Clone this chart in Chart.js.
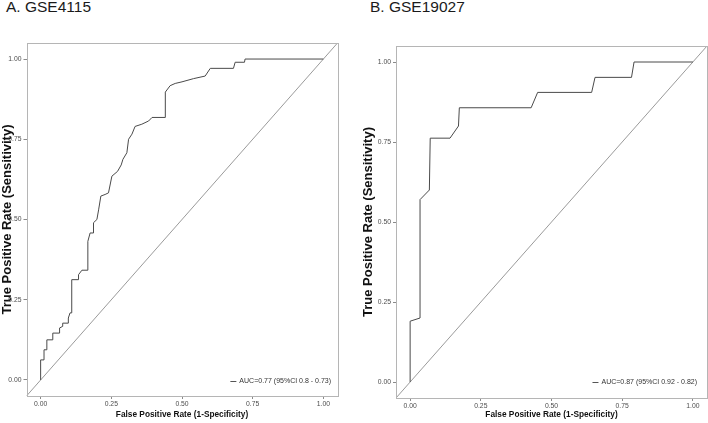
<!DOCTYPE html>
<html>
<head>
<meta charset="utf-8">
<script src="https://cdn.jsdelivr.net/npm/chart.js@4.4.1/dist/chart.umd.min.js"></script>
<style>
  html, body { margin:0; padding:0; background:#fff; }
  body { width:708px; height:423px; position:relative; overflow:hidden; }
  canvas { position:absolute; top:0; }
  .ptitle { position:absolute; top:-1px; font-family:"Liberation Sans", Arial, sans-serif; font-size:15.5px; line-height:1; color:#1a1a1a; white-space:nowrap; }
</style>
</head>
<body>
<div class="ptitle" style="left:6px;">A. GSE4115</div>
<div class="ptitle" style="left:370px;">B. GSE19027</div>
<canvas id="cA" width="354" height="423" style="left:0;"></canvas>
<canvas id="cB" width="354" height="423" style="left:354px;"></canvas>
<script>
// ---- data ----
const tickValues = [0, 0.25, 0.5, 0.75, 1];
const tickLabels = ['0.00', '0.25', '0.50', '0.75', '1.00'];
const diagonal = [-0.05, 1.05];

const panelTitles = ['A. GSE4115', 'B. GSE19027'];
const legendLabels = ['AUC=0.77 (95%CI 0.8 - 0.73)', 'AUC=0.87 (95%CI 0.92 - 0.82)'];
const xTitle = 'False Positive Rate (1-Specificity)';
const yTitle = 'True Positive Rate (Sensitivity)';

// GSE4115 ROC curve
const fprA = [0, 0, 0.012, 0.012, 0.022, 0.022, 0.043, 0.043, 0.067, 0.067, 0.078, 0.078, 0.098, 0.098, 0.104, 0.11, 0.11, 0.134, 0.134, 0.146, 0.167, 0.167, 0.175, 0.187, 0.187, 0.199, 0.205, 0.213, 0.228, 0.24, 0.252, 0.272, 0.285, 0.291, 0.305, 0.311, 0.323, 0.334, 0.358, 0.382, 0.394, 0.441, 0.441, 0.458, 0.476, 0.5, 0.541, 0.582, 0.6, 0.682, 0.688, 0.721, 0.723, 1];
const tprA = [0, 0.0625, 0.0625, 0.094, 0.094, 0.125, 0.125, 0.146, 0.146, 0.162, 0.167, 0.177, 0.177, 0.193, 0.209, 0.209, 0.3125, 0.3125, 0.328, 0.342, 0.342, 0.432, 0.458, 0.458, 0.49, 0.5, 0.53, 0.573, 0.578, 0.583, 0.635, 0.65, 0.67, 0.6875, 0.708, 0.75, 0.766, 0.79, 0.797, 0.807, 0.818, 0.818, 0.897, 0.917, 0.924, 0.929, 0.939, 0.947, 0.971, 0.971, 0.99, 0.99, 1, 1];

// GSE19027 ROC curve
const fprB = [0, 0, 0.035, 0.035, 0.068, 0.071, 0.141, 0.171, 0.174, 0.428, 0.451, 0.642, 0.654, 0.783, 0.792, 1];
const tprB = [0, 0.19, 0.2, 0.57, 0.6, 0.762, 0.762, 0.8, 0.857, 0.857, 0.905, 0.905, 0.952, 0.952, 1, 1];

// ---- plugins ----
const panelBox = {
  id: 'panelBox',
  afterDatasetsDraw(chart) {
    const {ctx, chartArea: a} = chart;
    ctx.save();
    ctx.strokeStyle = '#b5b5b5';
    ctx.lineWidth = 1;
    ctx.strokeRect(Math.round(a.left) + 0.5, Math.round(a.top) + 0.5, Math.round(a.right - a.left), Math.round(a.bottom - a.top));
    ctx.restore();
  }
};
const panelLegend = {
  id: 'panelLegend',
  afterDraw(chart, args, opts) {
    const {ctx, chartArea: a} = chart;
    const text = chart.data.datasets[0].label;
    ctx.save();
    ctx.font = '7px "Liberation Sans", Arial, sans-serif';
    ctx.fillStyle = '#333';
    ctx.textBaseline = 'middle';
    ctx.textAlign = 'right';
    const xr = a.right - opts.right;
    const y = a.bottom - opts.bottom;
    ctx.fillText(text, xr, y);
    const xs = xr - ctx.measureText(text).width;
    ctx.strokeStyle = '#555';
    ctx.lineWidth = 1;
    ctx.beginPath();
    ctx.moveTo(xs - 9, Math.round(y) + 0.5);
    ctx.lineTo(xs - 3, Math.round(y) + 0.5);
    ctx.stroke();
    ctx.restore();
  }
};

function makeChart(id, fpr, tpr, label, cfg) {
  const roc = fpr.map((x, i) => ({x: x, y: tpr[i]}));
  const diag = diagonal.map(v => ({x: v, y: v}));
  const tickFont = {family: '"Liberation Sans", Arial, sans-serif', size: 6.8};
  const common = {
    type: 'linear',
    min: -0.05, max: 1.05,
    afterBuildTicks: s => { s.ticks = tickValues.map(v => ({value: v})); },
    grid: {drawOnChartArea: false, drawTicks: true, tickLength: 3, color: '#8a8a8a', lineWidth: 1},
    border: {display: false},
  };
  return new Chart(document.getElementById(id), {
    type: 'scatter',
    data: {
      datasets: [
        {label: label, data: roc, showLine: true, borderColor: '#4a4a4a', borderWidth: 1, pointRadius: 0, tension: 0},
        {label: 'ref', data: diag, showLine: true, borderColor: '#808080', borderWidth: 0.8, pointRadius: 0}
      ]
    },
    options: {
      responsive: false,
      animation: false,
      layout: {padding: cfg.padding},
      plugins: {
        legend: {display: false},
        tooltip: {enabled: false},
        panelLegend: cfg.legend
      },
      scales: {
        x: Object.assign({}, common, {
          position: 'bottom',
          afterFit: s => { s.height = cfg.xH; },
          ticks: {autoSkip: false, maxRotation: 0, padding: cfg.xTickPad, color: '#4d4d4d', font: tickFont,
                  callback: (v, i) => tickLabels[i]},
          title: {display: true, text: xTitle, color: '#111', font: {family: '"Liberation Sans", Arial, sans-serif', size: 8.3, weight: 'bold'}, padding: {top: 0, bottom: 3}}
        }),
        y: Object.assign({}, common, {
          position: 'left',
          afterFit: s => { s.width = cfg.yW; },
          ticks: {autoSkip: false, padding: 2, color: '#4d4d4d', font: tickFont,
                  callback: (v, i) => tickLabels[i]},
          title: {display: true, text: yTitle, color: '#111', font: {family: '"Liberation Sans", Arial, sans-serif', size: 13, weight: 'bold'}, padding: {top: cfg.yTitlePad, bottom: 0}}
        })
      }
    },
    plugins: [panelBox, panelLegend]
  });
}

makeChart('cA', fprA, tprA, legendLabels[0], {
  padding: {left: 0, top: 43, right: 16.5, bottom: 0},
  xH: 27, yW: 26.5, yTitlePad: 0, xTickPad: 1,
  legend: {right: 6.5, bottom: 15}
});
makeChart('cB', fprB, tprB, legendLabels[1], {
  padding: {left: 0, top: 46, right: 1, bottom: 0},
  xH: 25, yW: 42, yTitlePad: 7, xTickPad: 1,
  legend: {right: 10, bottom: 16}
});
</script>
</body>
</html>
